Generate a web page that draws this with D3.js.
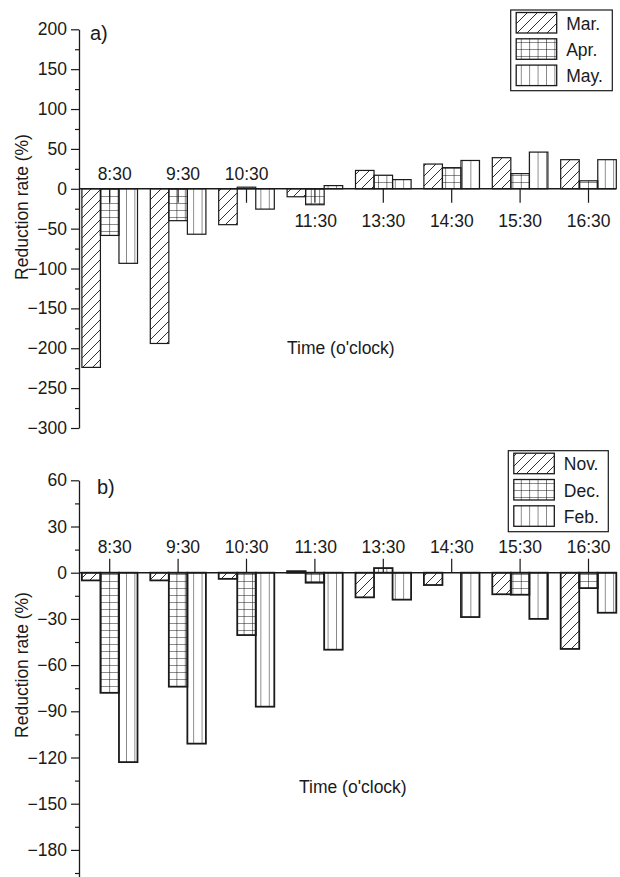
<!DOCTYPE html>
<html>
<head>
<meta charset="utf-8">
<script src="https://cdn.jsdelivr.net/npm/d3@7"></script>
<style>
  html, body { margin: 0; padding: 0; background: #fff; }
  svg { display: block; }
  text { font-family: "Liberation Sans", Arial, Helvetica, sans-serif; fill: #1a1a1a; }
</style>
</head>
<body>
<svg id="chart" width="620" height="877"></svg>
<script>
// ---------- data ----------
const times = ["8:30", "9:30", "10:30", "11:30", "13:30", "14:30", "15:30", "16:30"];

const seriesA = ["Mar.", "Apr.", "May."];
const marA = [-224, -194, -45, -10, 23, 31, 39, 36.5];
const aprA = [-58.5, -40, 2, -20, 17, 26.5, 19, 10];
const mayA = [-93.5, -57, -25.5, 4, 11.5, 35.5, 46, 36.5];
const ticksA = [200, 150, 100, 50, 0, -50, -100, -150, -200, -250, -300];
const minorA = [175, 125, 75, 25, -25, -75, -125, -175, -225, -275];

const seriesB = ["Nov.", "Dec.", "Feb."];
const novB = [-5, -5, -4, 1, -16, -8, -14, -49.5];
const decB = [-78, -74, -40.5, -6.5, 3, 0, -14.3, -10];
const febB = [-123, -111, -87, -50, -17.5, -28.8, -30, -26];
const ticksB = [60, 30, 0, -30, -60, -90, -120, -150, -180];
const minorB = [45, 15, -15, -45, -75, -105, -135, -165, -195];

// ---------- drawing ----------
const svg = d3.select("#chart");
const ink = "#1a1a1a";
const FS = 17.5;

// patterns
const defs = svg.append("defs");
const hatch = defs.append("pattern").attr("id", "p0").attr("patternUnits", "userSpaceOnUse")
  .attr("width", 10).attr("height", 10);
hatch.append("path").attr("d", "M-1,11 L11,-1 M-6,6 L6,-6 M4,16 L16,4")
  .attr("stroke", ink).attr("stroke-width", 0.9);
const grid = defs.append("pattern").attr("id", "p1").attr("patternUnits", "userSpaceOnUse")
  .attr("width", 8.4).attr("height", 7);
grid.append("path").attr("d", "M0,0 L0,7 M0,0 L8.4,0").attr("stroke", ink).attr("stroke-width", 1.1);
const vert = defs.append("pattern").attr("id", "p2").attr("patternUnits", "userSpaceOnUse")
  .attr("width", 8.4).attr("height", 10);
vert.append("path").attr("d", "M0,0 L0,10").attr("stroke", ink).attr("stroke-width", 1);

const axisX = 79;
const xC = d3.scalePoint().domain(times).range([109.7, 588.5]);
const xIn = d3.scaleBand().domain([0, 1, 2]).range([-27.8, 27.8]).paddingInner(0);

function drawPanel(cfg) {
  const g = svg.append("g");
  const y = d3.scaleLinear().domain(cfg.domain).range(cfg.range);
  const y0 = y(0);

  // minor ticks
  g.append("g").attr("transform", `translate(${axisX},0)`)
    .call(d3.axisLeft(y).tickValues(cfg.minor).tickSize(4).tickFormat(""))
    .call(a => a.select(".domain").remove())
    .call(a => a.selectAll("line").attr("stroke", ink).attr("stroke-width", 1.2));

  // major axis
  g.append("g").attr("transform", `translate(${axisX},0)`)
    .call(d3.axisLeft(y).tickValues(cfg.ticks).tickSize(8).tickPadding(4)
      .tickSizeOuter(0).tickFormat(d => d < 0 ? "\u2212" + Math.abs(d) : d))
    .call(a => a.select(".domain").attr("stroke", ink).attr("stroke-width", 1.3))
    .call(a => a.selectAll("line").attr("stroke", ink).attr("stroke-width", 1.2))
    .call(a => a.selectAll("text").attr("font-size", FS).attr("fill", ink)
      .style("font-family", '"Liberation Sans", Arial, sans-serif'));

  // bars
  const vals = cfg.values;
  vals.forEach((arr, s) => {
    g.append("g").selectAll("rect").data(arr.map((v, i) => ({ v, i })).filter(d => d.v !== 0))
      .join("rect")
      .attr("x", d => xC(times[d.i]) + xIn(s))
      .attr("width", xIn.bandwidth())
      .attr("y", d => Math.min(y(d.v), y0))
      .attr("height", d => Math.abs(y(d.v) - y0))
      .attr("fill", `url(#p${s})`)
      .attr("stroke", ink)
      .attr("stroke-width", cfg.barStroke);
  });

  // zero line
  g.append("line").attr("x1", axisX).attr("x2", 616).attr("y1", y0).attr("y2", y0)
    .attr("stroke", ink).attr("stroke-width", 1.6);

  // time ticks + labels
  times.forEach((t, i) => {
    const cx = xC(t);
    g.append("line").attr("x1", cx).attr("x2", cx).attr("y1", y0)
      .attr("y2", y0 + cfg.tickDir * 14).attr("stroke", ink).attr("stroke-width", 1.2);
    const groupMin = d3.min(vals, a => a[i]);
    const above = cfg.allAbove || groupMin < -30;
    g.append("text").attr("x", cx + 22).attr("y", above ? y0 - cfg.aboveGap : y0 + 38)
      .attr("text-anchor", "end").attr("font-size", FS).text(t);
  });

  // panel label
  g.append("text").attr("x", cfg.tagX).attr("y", cfg.tagY).attr("font-size", 20).text(cfg.tag);

  // axis titles
  g.append("text").attr("transform", `translate(28,${cfg.yTitleY}) rotate(-90)`)
    .attr("text-anchor", "middle").attr("font-size", FS).text("Reduction rate (%)");
  g.append("text").attr("x", cfg.xTitleX).attr("y", cfg.xTitleY)
    .attr("font-size", FS).text("Time (o'clock)");

  // legend
  const L = cfg.legend;
  g.append("rect").attr("x", L.x).attr("y", L.y).attr("width", L.w).attr("height", L.h)
    .attr("fill", "#fff").attr("stroke", ink).attr("stroke-width", 1.2);
  cfg.series.forEach((name, s) => {
    const ry = L.y + 2.5 + s * 26.3;
    g.append("rect").attr("x", L.x + 5.5).attr("y", ry).attr("width", 40.5).attr("height", 20.5)
      .attr("fill", `url(#p${s})`).attr("stroke", ink).attr("stroke-width", 1.3);
    g.append("text").attr("x", L.x + 55.5).attr("y", ry + 17).attr("font-size", FS).text(name);
  });
}

drawPanel({
  domain: [200, -300], range: [29.3, 428],
  ticks: ticksA, minor: minorA,
  values: [marA, aprA, mayA], series: seriesA,
  barStroke: 1.2, tickDir: 1, allAbove: false, aboveGap: 9,
  tag: "a)", tagX: 90, tagY: 40,
  yTitleY: 207, xTitleX: 287, xTitleY: 354,
  legend: { x: 510.7, y: 10, w: 101.6, h: 80.7 }
});

drawPanel({
  domain: [60, -200], range: [480.3, 480.3 + 260 * (92.4 / 60)],
  ticks: ticksB, minor: minorB,
  values: [novB, decB, febB], series: seriesB,
  barStroke: 1.8, tickDir: -1, allAbove: true, aboveGap: 20,
  tag: "b)", tagX: 97, tagY: 494,
  yTitleY: 665, xTitleX: 299, xTitleY: 793,
  legend: { x: 508.3, y: 450.7, w: 100, h: 81 }
});
</script>
</body>
</html>
